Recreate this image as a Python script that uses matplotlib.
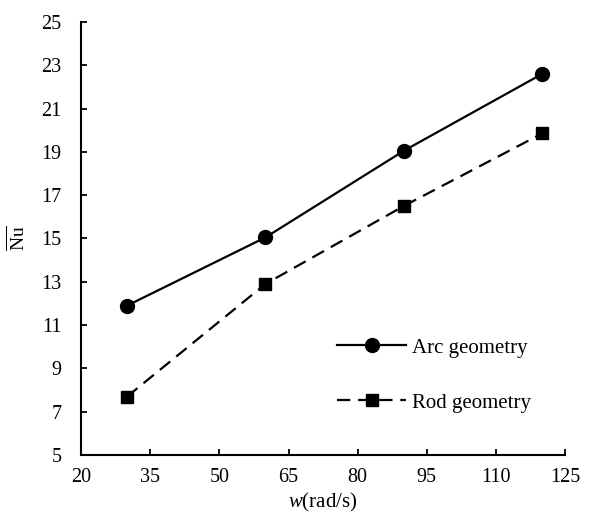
import matplotlib
matplotlib.use("Agg")
import matplotlib.pyplot as plt

plt.rcParams['font.family'] = ['Liberation Serif', 'DejaVu Serif']
plt.rcParams['mathtext.fontset'] = 'custom'
plt.rcParams['mathtext.rm'] = 'Liberation Serif'
plt.rcParams['mathtext.it'] = 'Liberation Serif:italic'

# Data
w = [30, 60, 90, 120]
nu_arc = [11.9, 15.05, 19.05, 22.6]
nu_rod = [7.7, 12.9, 16.5, 19.85]
xticks = [20, 35, 50, 65, 80, 95, 110, 125]
yticks = [5, 7, 9, 11, 13, 15, 17, 19, 21, 23, 25]

f = plt.figure(figsize=(6, 5.23), dpi=100)
ax = f.add_axes([0.135, 0.130, 0.807, 0.828])

ax.plot(w, nu_arc, color='black', lw=1.6, marker='o', markersize=10,
        label='Arc geometry')
ax.plot(w, nu_rod, color='black', lw=1.6, ls=(0, (6, 3.5)), marker='s',
        markersize=8.5, label='Rod geometry')

ax.set_xlim(20, 125)
ax.set_ylim(5, 25)
ax.set_xticks(xticks)
ax.set_yticks(yticks)
ax.tick_params(direction='in', length=4, width=1.3, labelsize=14.5)
ax.tick_params(axis='y', pad=14)
ax.tick_params(axis='x', pad=9)
for s in ['top', 'right']:
    ax.spines[s].set_visible(False)
for s in ['left', 'bottom']:
    ax.spines[s].set_linewidth(1.5)

ax.set_xlabel(r'$w$(rad/s)', fontsize=15, labelpad=3)
ax.set_ylabel(r'$\overline{\mathrm{Nu}}$', fontsize=14, labelpad=9)

ax.legend(loc='upper left', bbox_to_anchor=(0.529, 0.27), frameon=False,
          borderpad=0, borderaxespad=0,
          fontsize=15, handlelength=3.3, labelspacing=1.7, handletextpad=0.3)

plt.savefig("out.png", dpi=100)
plt.close(f)
